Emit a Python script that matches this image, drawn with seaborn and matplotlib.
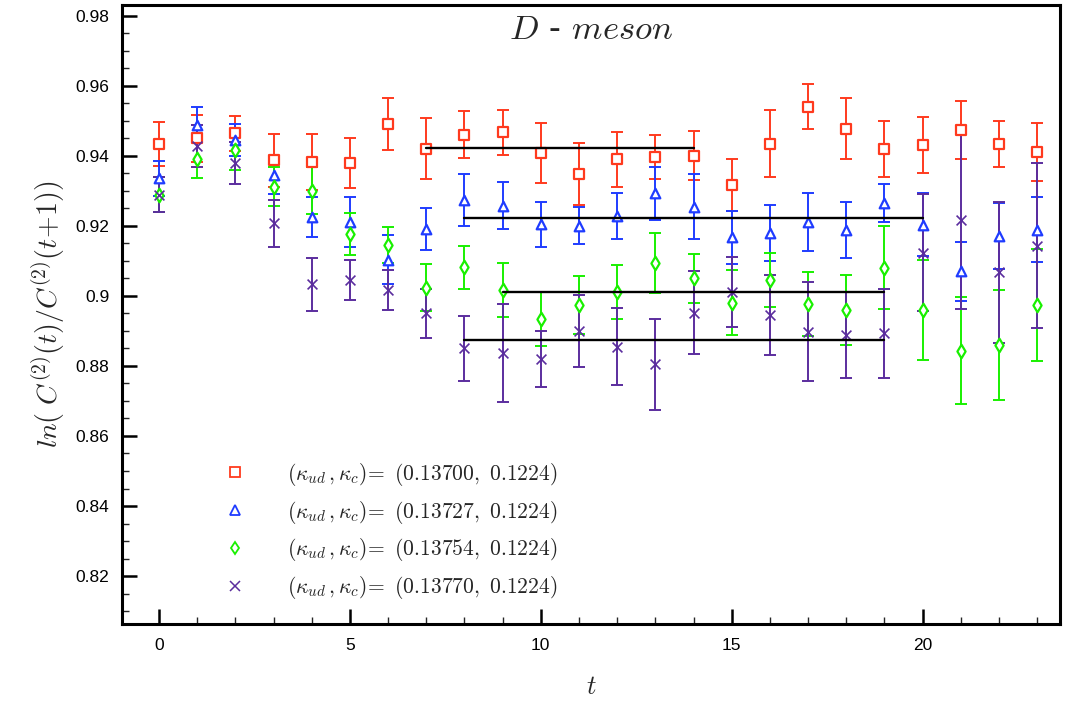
import numpy as np
import pandas as pd
import matplotlib
matplotlib.use("Agg")
import matplotlib.pyplot as plt
import seaborn as sns
from matplotlib.lines import Line2D
from matplotlib.ticker import MultipleLocator

t = list(range(24))

red_y = [0.9435, 0.9450, 0.9465, 0.9387, 0.9382, 0.9380, 0.9490, 0.9421, 0.9461, 0.9467,
         0.9409, 0.9348, 0.9390, 0.9398, 0.9400, 0.9317, 0.9435, 0.9541, 0.9477, 0.9420,
         0.9432, 0.9474, 0.9433, 0.9411]
red_e = [0.0063, 0.0067, 0.0050, 0.0076, 0.0080, 0.0072, 0.0074, 0.0087, 0.0068, 0.0064,
         0.0085, 0.0089, 0.0078, 0.0063, 0.0070, 0.0073, 0.0095, 0.0063, 0.0087, 0.0080,
         0.0080, 0.0083, 0.0066, 0.0084]

blue_y = [0.9336, 0.9489, 0.9446, 0.9346, 0.9225, 0.9211, 0.9103, 0.9190, 0.9274, 0.9258,
          0.9205, 0.9201, 0.9229, 0.9293, 0.9255, 0.9167, 0.9181, 0.9210, 0.9187, 0.9265,
          0.9203, 0.9070, 0.9172, 0.9189]
blue_e = [0.0050, 0.0050, 0.0045, 0.0055, 0.0057, 0.0072, 0.0070, 0.0060, 0.0075, 0.0067,
          0.0064, 0.0053, 0.0066, 0.0076, 0.0093, 0.0075, 0.0080, 0.0083, 0.0080, 0.0055,
          0.0090, 0.0085, 0.0094, 0.0093]

green_y = [0.9289, 0.9391, 0.9417, 0.9312, 0.9300, 0.9177, 0.9145, 0.9024, 0.9082, 0.9017,
           0.8934, 0.8974, 0.9012, 0.9093, 0.9050, 0.8981, 0.9046, 0.8977, 0.8960, 0.9081,
           0.8960, 0.8843, 0.8860, 0.8974]
green_e = [0.0050, 0.0055, 0.0056, 0.0055, 0.0067, 0.0060, 0.0051, 0.0067, 0.0062, 0.0076,
           0.0076, 0.0083, 0.0077, 0.0086, 0.0070, 0.0092, 0.0078, 0.0090, 0.0099, 0.0118,
           0.0143, 0.0153, 0.0157, 0.0160]

purple_y = [0.9289, 0.9429, 0.9379, 0.9208, 0.9033, 0.9046, 0.9017, 0.8950, 0.8850, 0.8836,
            0.8820, 0.8900, 0.8855, 0.8805, 0.8952, 0.9010, 0.8946, 0.8898, 0.8889, 0.8893,
            0.9124, 0.9217, 0.9067, 0.9144]
purple_e = [0.0050, 0.0060, 0.0060, 0.0067, 0.0076, 0.0057, 0.0057, 0.0071, 0.0094, 0.0140,
            0.0080, 0.0102, 0.0110, 0.0130, 0.0118, 0.0100, 0.0114, 0.0141, 0.0122, 0.0127,
            0.0168, 0.0254, 0.0200, 0.0235]

labels = [r"$(\kappa_{ud}\,,\kappa_c)\!=\ (0.13700,\ 0.1224)$",
          r"$(\kappa_{ud}\,,\kappa_c)\!=\ (0.13727,\ 0.1224)$",
          r"$(\kappa_{ud}\,,\kappa_c)\!=\ (0.13754,\ 0.1224)$",
          r"$(\kappa_{ud}\,,\kappa_c)\!=\ (0.13770,\ 0.1224)$"]

# plateau fits: (value, t_start, t_end)
fit_vals = [0.9423, 0.9224, 0.9012, 0.8874]
fit_start = [7, 8, 9, 8]
fit_end = [14, 20, 19, 19]

colors = ["#ff3a1e", "#1f3cff", "#19f000", "#5b2d9e"]
markers = ["s", "^", "d", "x"]

sns.set_theme(style="ticks")
plt.rcParams["mathtext.fontset"] = "cm"
plt.rcParams["font.family"] = ["Liberation Sans", "DejaVu Sans"]

fig = plt.figure(figsize=(10.66, 7.07), dpi=100)
ax = fig.add_axes([122 / 1066, 1 - 624 / 707, 938 / 1066, 619 / 707])

series = [(red_y, red_e), (blue_y, blue_e), (green_y, green_e), (purple_y, purple_e)]
frames = []
for i, (y, e) in enumerate(series):
    frames.append(pd.DataFrame({"t": t, "val": y, "err": e, "set": labels[i]}))
df = pd.concat(frames, ignore_index=True)

for i, (y, e) in enumerate(series):
    ax.errorbar(t, y, yerr=e, fmt="none", ecolor=colors[i], elinewidth=1.4,
                capsize=4, capthick=1.4, zorder=2)

for i, lab in enumerate(labels):
    sub = df[df["set"] == lab]
    if markers[i] == "x":
        sns.scatterplot(data=sub, x="t", y="val", ax=ax, marker="x", s=50,
                        color=colors[i], linewidth=1.2, zorder=3, legend=False)
    else:
        sns.scatterplot(data=sub, x="t", y="val", ax=ax, marker=markers[i], s=48,
                        facecolor="white", edgecolor=colors[i], linewidth=1.6,
                        zorder=3, legend=False)

for v, a, b in zip(fit_vals, fit_start, fit_end):
    ax.plot([a, b], [v, v], color="black", lw=1.7, zorder=4)

ax.set_xlim(-0.97, 23.6)
ax.set_ylim(0.8063, 0.9831)
ax.xaxis.set_major_locator(MultipleLocator(5))
ax.xaxis.set_minor_locator(MultipleLocator(1))
ax.yaxis.set_major_locator(MultipleLocator(0.02))
ax.yaxis.set_minor_locator(MultipleLocator(0.005))
ax.yaxis.set_major_formatter(matplotlib.ticker.FuncFormatter(lambda v, p: ("%.2f" % v).rstrip("0") if abs(v - 0.9) > 1e-9 else "0.9"))
ax.tick_params(which="major", direction="in", length=11, width=1.8, labelsize=12.5, pad=9,
               colors="black")
ax.tick_params(which="minor", direction="in", length=5, width=1.0)
ax.tick_params(axis="x", pad=10)
for s in ax.spines.values():
    s.set_linewidth(2.2)
    s.set_color("black")

ax.set_xlabel(r"$t$", fontsize=19, labelpad=16)
ax.set_ylabel(r"$ln(\ C^{(2)}(t)/C^{(2)}(t\!+\!1))$", fontsize=20, labelpad=6)
ax.text(0.5, 0.962, r"$D$ - $meson$", transform=ax.transAxes, ha="center", va="center",
        fontsize=25, family=["DejaVu Serif"])

handles = []
for i in range(4):
    if markers[i] == "x":
        h = Line2D([], [], ls="none", marker="x", color=colors[i], markersize=6.5, mew=1.1)
    else:
        h = Line2D([], [], ls="none", marker=markers[i], markerfacecolor="white",
                   markeredgecolor=colors[i], markersize=6.5, mew=1.3)
    handles.append(h)
leg = ax.legend(handles, labels, loc="upper left", bbox_to_anchor=(0.088, 0.295),
                frameon=False, fontsize=15.5, handletextpad=1.95, labelspacing=0.5,
                handlelength=1.0)

fig.savefig("out.png", dpi=100)
